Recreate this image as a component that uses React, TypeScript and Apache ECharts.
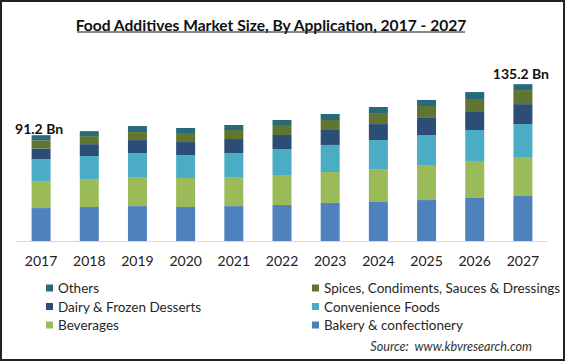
import React, { useEffect, useRef } from "react";
import * as echarts from "echarts";

const years = ["2017", "2018", "2019", "2020", "2021", "2022", "2023", "2024", "2025", "2026", "2027"];
const bakery = [28.4, 29.3, 30.1, 29.3, 30.1, 31.0, 32.8, 33.6, 35.3, 37.1, 38.8];
const beverages = [23.2, 24.1, 25.0, 25.0, 25.0, 25.9, 26.7, 28.4, 30.2, 31.9, 33.6];
const convenience = [18.9, 19.8, 20.7, 19.8, 20.7, 22.4, 23.3, 25.0, 25.9, 26.7, 28.4];
const dairy = [9.2, 10.3, 11.2, 11.2, 12.1, 12.1, 12.9, 13.8, 14.7, 15.5, 17.2];
const spices = [7.1, 6.9, 6.9, 7.8, 7.8, 8.6, 8.6, 9.5, 10.3, 11.2, 12.1];
const others = [4.4, 4.3, 5.2, 4.3, 4.3, 4.3, 5.2, 5.2, 5.2, 6.0, 5.1];
const totalLabels = ["91.2 Bn", "", "", "", "", "", "", "", "", "", "135.2 Bn"];

const names = {
  others: "Others",
  spices: "Spices, Condiments, Sauces & Dressings",
  dairy: "Dairy & Frozen Desserts",
  convenience: "Convenience Foods",
  beverages: "Beverages",
  bakery: "Bakery & confectionery",
};

const colors = {
  bakery: "#4f81bd",
  beverages: "#9bbb59",
  convenience: "#4bacc6",
  dairy: "#2c4d75",
  spices: "#5f7530",
  others: "#276a7c",
};

const FONT = "Lato";

export default function App() {
  const ref = useRef<HTMLDivElement>(null);
  useEffect(() => {
    if (!ref.current) return;
    const chart = echarts.init(ref.current, null, { renderer: "svg" });
    const mk = (key: string, data: number[]) => ({
      name: (names as any)[key],
      type: "bar",
      stack: "total",
      barWidth: 19,
      data,
      itemStyle: { color: (colors as any)[key] },
    });
    const othersSeries: any = mk("others", others);
    othersSeries.data = others.map((v, i) => ({
      value: v,
      label: totalLabels[i]
        ? {
            show: true,
            position: "top",
            distance: i === 0 ? 0 : 4,
            offset: [-2, 0],
            formatter: totalLabels[i],
            fontFamily: FONT,
            fontWeight: "bold",
            fontSize: 14,
            color: "#111",
          }
        : { show: false },
    }));
    const legendText = { fontFamily: FONT, fontSize: 13.5, color: "#262626", lineHeight: 14 };
    chart.setOption({
      animation: false,
      color: Object.values(colors),
      grid: { left: 17, right: 18, top: 67, bottom: 120, containLabel: false },
      xAxis: {
        type: "category",
        data: years,
        axisLine: { lineStyle: { color: "#d9d9d9", width: 1 } },
        axisTick: { show: false },
        axisLabel: { color: "#222", fontSize: 14, fontFamily: FONT, margin: 12 },
      },
      yAxis: { type: "value", min: 0, max: 150, show: false, splitLine: { show: false } },
      legend: [
        {
          orient: "vertical",
          left: 41,
          top: 276,
          itemWidth: 7,
          itemHeight: 7,
          itemGap: 4.5,
          itemStyle: { borderWidth: 0 },
          textStyle: legendText,
          data: [names.others, names.dairy, names.beverages].map((n) => ({ name: n, icon: "rect" })),
        },
        {
          orient: "vertical",
          left: 307,
          top: 276,
          itemWidth: 7,
          itemHeight: 7,
          itemGap: 4.5,
          itemStyle: { borderWidth: 0 },
          textStyle: legendText,
          data: [names.spices, names.convenience, names.bakery].map((n) => ({ name: n, icon: "rect" })),
        },
      ],
      graphic: [
        {
          type: "rect",
          shape: { x: 1, y: 1, width: 563, height: 359 },
          style: { fill: "none", stroke: "#222", lineWidth: 2 },
          silent: true,
        },
        {
          type: "text",
          x: 271,
          y: 25,
          style: {
            text: "Food Additives Market Size, By Application, 2017 - 2027",
            fontFamily: FONT,
            fontWeight: "bold",
            fontSize: 15.6,
            fill: "#111",
            align: "center",
            verticalAlign: "middle",
          },
        },
        {
          type: "line",
          shape: { x1: 77, y1: 32, x2: 465, y2: 32 },
          style: { stroke: "#111", lineWidth: 1 },
        },
        {
          type: "text",
          x: 532,
          y: 346,
          style: {
            text: "Source:  www.kbvresearch.com",
            fontFamily: FONT,
            fontStyle: "italic",
            fontSize: 12.6,
            fill: "#333",
            align: "right",
            verticalAlign: "middle",
          },
        },
      ],
      series: [
        mk("bakery", bakery),
        mk("beverages", beverages),
        mk("convenience", convenience),
        mk("dairy", dairy),
        mk("spices", spices),
        othersSeries,
      ],
    });
    return () => chart.dispose();
  }, []);
  return (
    <div
      ref={ref}
      style={{ position: "absolute", left: 0, top: 0, width: 565, height: 361, background: "#fff" }}
    />
  );
}
